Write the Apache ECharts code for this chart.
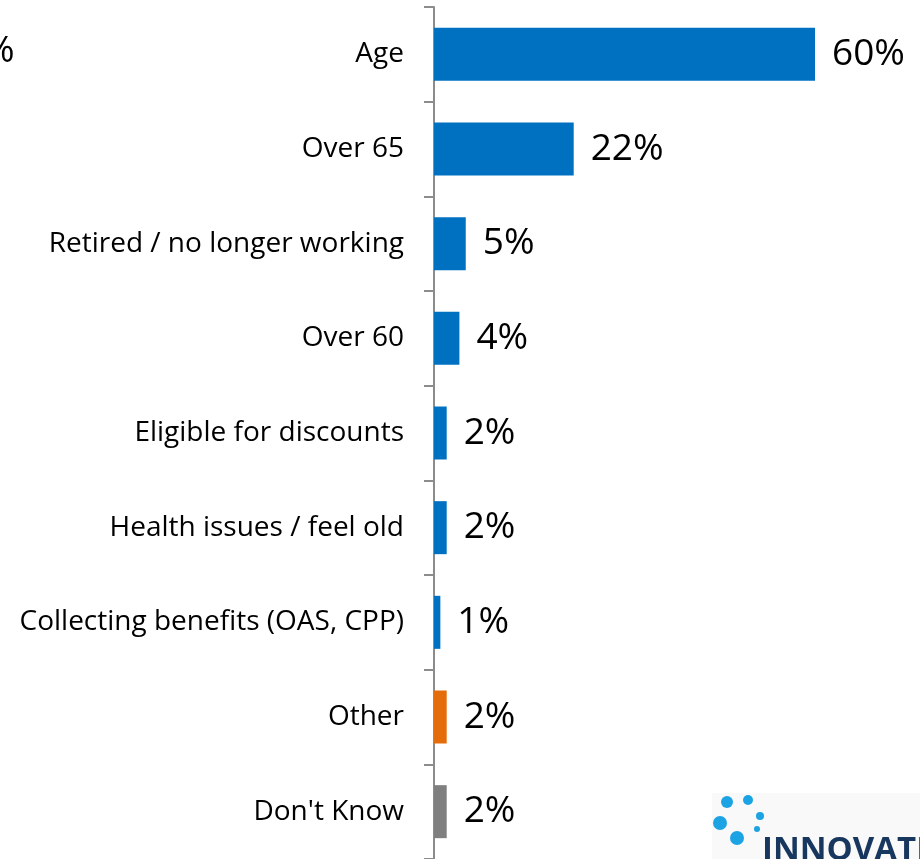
<!DOCTYPE html>
<html>
<head>
<meta charset="utf-8">
<script src="https://cdn.jsdelivr.net/npm/echarts@6/dist/echarts.min.js"></script>
<style>
  html, body { margin: 0; padding: 0; background: #ffffff; }
  #chart { width: 920px; height: 859px; }
</style>
</head>
<body>
<div id="chart"></div>
<script>
// Reasons given, share of respondents (%)
const categories = [
  'Age',
  'Over 65',
  'Retired / no longer working',
  'Over 60',
  'Eligible for discounts',
  'Health issues / feel old',
  'Collecting benefits (OAS, CPP)',
  'Other',
  "Don't Know"
];
const values = [60, 22, 5, 4, 2, 2, 1, 2, 2];

const BLUE = '#0070C0';
const ORANGE = '#E46C0A';
const GREY = '#7F7F7F';

function barColor(name) {
  if (name === 'Other') return ORANGE;
  if (name === "Don't Know") return GREY;
  return BLUE;
}

const chart = echarts.init(document.getElementById('chart'));
const FONT = 'Open Sans, Liberation Sans, sans-serif';

chart.setOption({
  animation: false,
  backgroundColor: '#ffffff',
  grid: { left: 434, right: 105, top: 7, height: 855, containLabel: false },
  xAxis: {
    type: 'value', min: 0, max: 60, show: false
  },
  yAxis: {
    type: 'category',
    inverse: true,
    data: categories,
    axisLine: { show: true, lineStyle: { color: '#8c8c8c', width: 2 } },
    axisTick: { show: true, length: 10, lineStyle: { color: '#8c8c8c', width: 2 } },
    axisLabel: { margin: 30, fontSize: 28, color: '#000000', fontFamily: FONT },
    splitLine: { show: false }
  },
  series: [{
    type: 'bar',
    data: values.map((v, i) => ({ value: v, itemStyle: { color: barColor(categories[i]) } })),
    barWidth: 53,
    label: {
      show: true,
      position: 'right',
      distance: 17,
      formatter: p => p.value + '%',
      fontSize: 37,
      color: '#000000',
      fontFamily: FONT
    }
  }],
  graphic: [
    // clipped label from the neighbouring panel
    { type: 'text', left: -16, top: 33, style: { text: '%', fontSize: 37, fill: '#000', fontFamily: FONT } },
    // logo block
    { type: 'rect', shape: { x: 712, y: 793, width: 208, height: 66 }, style: { fill: '#f9f9f9' } },
    { type: 'circle', shape: { cx: 727, cy: 802, r: 6 }, style: { fill: '#1ca3e3' } },
    { type: 'circle', shape: { cx: 748, cy: 800, r: 5 }, style: { fill: '#1ca3e3' } },
    { type: 'circle', shape: { cx: 760, cy: 816, r: 4 }, style: { fill: '#1ca3e3' } },
    { type: 'circle', shape: { cx: 720, cy: 823, r: 7 }, style: { fill: '#1ca3e3' } },
    { type: 'circle', shape: { cx: 757, cy: 829, r: 3 }, style: { fill: '#1ca3e3' } },
    { type: 'circle', shape: { cx: 737, cy: 838, r: 7 }, style: { fill: '#1ca3e3' } },
    { type: 'text', x: 762, y: 834, style: { text: 'INNOVATIVE', fontSize: 33, fontWeight: 'bold', fill: '#17375e', fontFamily: 'Open Sans, sans-serif' } }
  ]
});
</script>
</body>
</html>
